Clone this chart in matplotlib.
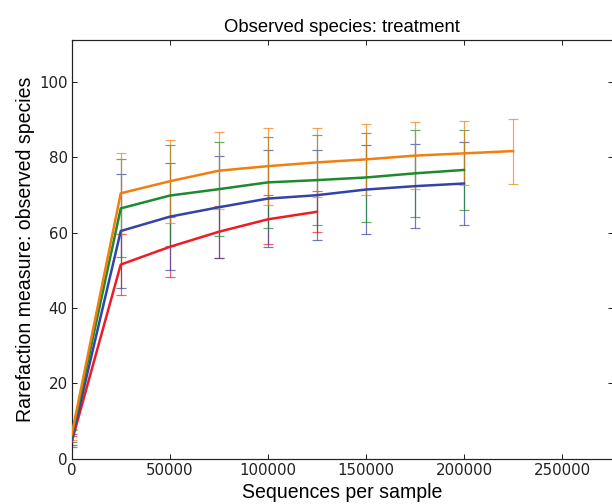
import matplotlib
matplotlib.use("Agg")
import matplotlib.pyplot as plt

# sequences per sample (rarefaction depths)
depth = [10, 25000, 50000, 75000, 100000, 125000, 150000, 175000, 200000, 225000]

orange_y = [6.5, 70.4, 73.6, 76.4, 77.6, 78.6, 79.4, 80.4, 81.0, 81.6]
orange_err = [1.5, 10.8, 11.0, 10.2, 10.2, 9.2, 9.4, 8.9, 8.5, 8.6]

green_y = [6.0, 66.4, 69.8, 71.5, 73.3, 73.9, 74.6, 75.7, 76.6]
green_err = [1.5, 13.0, 13.3, 12.5, 12.0, 12.0, 11.7, 11.6, 10.6]

blue_y = [5.0, 60.4, 64.2, 66.7, 69.0, 69.9, 71.4, 72.3, 73.0]
blue_err = [1.5, 15.0, 14.2, 13.5, 12.8, 11.9, 11.8, 11.2, 11.1]

red_y = [4.5, 51.5, 56.2, 60.2, 63.5, 65.5]
red_err = [1.5, 8.2, 7.9, 6.9, 6.5, 5.4]

series = [
    (red_y, red_err, "#ee1c24"),
    (blue_y, blue_err, "#3343a6"),
    (green_y, green_err, "#1e8a2e"),
    (orange_y, orange_err, "#f07f10"),
]

fig = plt.figure(figsize=(8.5, 7), dpi=72)
ax = fig.add_axes([0.1172, 0.0899, 0.8845, 0.8317])

# error bars first, lines on top
for y, err, col in series:
    n = len(y)
    ax.errorbar(depth[:n], y, yerr=err, fmt="none", ecolor=col,
                elinewidth=1.2, capsize=5, capthick=1.2, alpha=0.7, zorder=2)
for y, err, col in series:
    n = len(y)
    ax.plot(depth[:n], y, color=col, linewidth=2.5, zorder=3)

ax.set_xlim(0, 276000)
ax.set_ylim(0, 111.2)
ax.set_xticks([0, 50000, 100000, 150000, 200000, 250000])
ax.set_yticks([0, 20, 40, 60, 80, 100])
ax.tick_params(direction="in", top=True, right=True, length=5, width=1,
               labelsize=15, colors="#222222", labelcolor="#222222", pad=4)
for lab in ax.get_xticklabels() + ax.get_yticklabels():
    lab.set_family("DejaVu Sans")
for sp in ax.spines.values():
    sp.set_linewidth(1.2)
    sp.set_color("#222222")

ax.set_title("Observed species: treatment", fontsize=18.5,
             family="Liberation Sans", pad=8)
ax.set_xlabel("Sequences per sample", fontsize=19.5, family="Liberation Sans",
              labelpad=5)
ax.set_ylabel("Rarefaction measure: observed species", fontsize=19.5,
              family="Liberation Sans", labelpad=4)

fig.savefig("out.png", dpi=72)
